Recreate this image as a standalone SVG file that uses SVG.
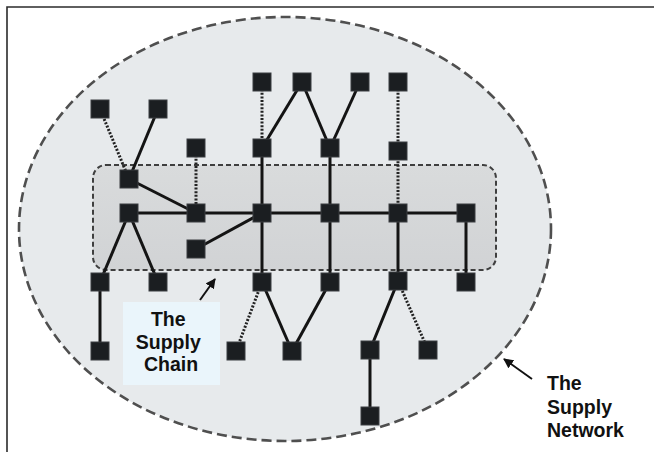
<svg xmlns="http://www.w3.org/2000/svg" width="654" height="452" viewBox="0 0 654 452">
  <defs>
    <style>
      .node { fill: #1b1e21; stroke: #3a3d40; stroke-width: 1; }
      .solid { stroke: #141414; stroke-width: 3; fill: none; }
      .dotted { stroke: #222; stroke-width: 3; stroke-dasharray: 2 1.6; fill: none; }
      .pointer { stroke: #111; stroke-width: 2; fill: none; marker-end: url(#head); }
      .label { font-family: "Liberation Sans", Arial, sans-serif; font-weight: bold; font-size: 19.5px; fill: #111; }
    </style>
    <marker id="head" viewBox="0 0 10 10" refX="9" refY="5" markerWidth="5" markerHeight="5" orient="auto">
      <path d="M0,0 L10,5 L0,10 Z" fill="#111"/>
    </marker>
    <linearGradient id="chainFill" x1="0" y1="0" x2="0" y2="1">
      <stop offset="0" stop-color="#d9dbdc"/>
      <stop offset="1" stop-color="#d1d3d5"/>
    </linearGradient>
  </defs>

  <rect x="0" y="0" width="654" height="452" fill="#ffffff"/>
  <!-- frame (top and left edges) -->
  <path d="M7,452 V7 H654" fill="none" stroke="#2b2b2b" stroke-width="1.6"/>

  <!-- supply network boundary -->
  <g id="network">
    <ellipse cx="285" cy="229" rx="266" ry="212" fill="#e7eaec" stroke="#4f4f4f" stroke-width="2.6" stroke-dasharray="10 5"/>
  </g>

  <!-- supply chain boundary -->
  <g id="chain">
    <rect x="93" y="165" width="403" height="105" rx="13" ry="13" fill="url(#chainFill)" stroke="#3f3f3f" stroke-width="2" stroke-dasharray="5 3"/>
  </g>

  <!-- connectors -->
  <g id="connectors">
    <line class="dotted" x1="100" y1="109" x2="129" y2="179"/>
    <line class="solid" x1="158" y1="109" x2="129" y2="179"/>
    <line class="solid" x1="129" y1="179" x2="196" y2="213"/>
    <line class="dotted" x1="196" y1="148" x2="196" y2="213"/>
    <line class="solid" x1="129" y1="213" x2="466" y2="213"/>
    <line class="dotted" x1="262" y1="82" x2="262" y2="148"/>
    <line class="solid" x1="302" y1="82" x2="262" y2="148"/>
    <line class="solid" x1="302" y1="82" x2="330" y2="148"/>
    <line class="solid" x1="360" y1="82" x2="330" y2="148"/>
    <line class="dotted" x1="398" y1="82" x2="398" y2="213"/>
    <line class="solid" x1="262" y1="148" x2="262" y2="282"/>
    <line class="solid" x1="330" y1="148" x2="330" y2="282"/>
    <line class="solid" x1="196" y1="249" x2="262" y2="213"/>
    <line class="solid" x1="129" y1="213" x2="100" y2="282"/>
    <line class="solid" x1="129" y1="213" x2="158" y2="282"/>
    <line class="solid" x1="100" y1="282" x2="100" y2="351"/>
    <line class="dotted" x1="262" y1="282" x2="236" y2="351"/>
    <line class="solid" x1="262" y1="282" x2="292" y2="351"/>
    <line class="solid" x1="330" y1="282" x2="292" y2="351"/>
    <line class="solid" x1="398" y1="213" x2="398" y2="281"/>
    <line class="solid" x1="398" y1="281" x2="370" y2="350"/>
    <line class="dotted" x1="398" y1="281" x2="428" y2="350"/>
    <line class="solid" x1="370" y1="350" x2="370" y2="416"/>
    <line class="solid" x1="466" y1="213" x2="466" y2="282"/>
  </g>

  <!-- nodes -->
  <g id="n1"><rect class="node" x="253" y="73" width="18" height="18"/></g>
  <g id="n2"><rect class="node" x="293" y="73" width="18" height="18"/></g>
  <g id="n3"><rect class="node" x="351" y="73" width="18" height="18"/></g>
  <g id="n4"><rect class="node" x="389" y="73" width="18" height="18"/></g>
  <g id="n5"><rect class="node" x="91" y="100" width="18" height="18"/></g>
  <g id="n6"><rect class="node" x="149" y="100" width="18" height="18"/></g>
  <g id="n7"><rect class="node" x="187" y="139" width="18" height="18"/></g>
  <g id="n8"><rect class="node" x="253" y="139" width="18" height="18"/></g>
  <g id="n9"><rect class="node" x="321" y="139" width="18" height="18"/></g>
  <g id="n10"><rect class="node" x="389" y="142" width="18" height="18"/></g>
  <g id="n11"><rect class="node" x="120" y="170" width="18" height="18"/></g>
  <g id="n12"><rect class="node" x="120" y="204" width="18" height="18"/></g>
  <g id="n13"><rect class="node" x="187" y="204" width="18" height="18"/></g>
  <g id="n14"><rect class="node" x="253" y="204" width="18" height="18"/></g>
  <g id="n15"><rect class="node" x="321" y="204" width="18" height="18"/></g>
  <g id="n16"><rect class="node" x="389" y="204" width="18" height="18"/></g>
  <g id="n17"><rect class="node" x="457" y="204" width="18" height="18"/></g>
  <g id="n18"><rect class="node" x="187" y="240" width="18" height="18"/></g>
  <g id="n19"><rect class="node" x="91" y="273" width="18" height="18"/></g>
  <g id="n20"><rect class="node" x="149" y="273" width="18" height="18"/></g>
  <g id="n21"><rect class="node" x="253" y="273" width="18" height="18"/></g>
  <g id="n22"><rect class="node" x="321" y="273" width="18" height="18"/></g>
  <g id="n23"><rect class="node" x="389" y="272" width="18" height="18"/></g>
  <g id="n24"><rect class="node" x="457" y="273" width="18" height="18"/></g>
  <g id="n25"><rect class="node" x="91" y="342" width="18" height="18"/></g>
  <g id="n26"><rect class="node" x="227" y="342" width="18" height="18"/></g>
  <g id="n27"><rect class="node" x="283" y="342" width="18" height="18"/></g>
  <g id="n28"><rect class="node" x="361" y="341" width="18" height="18"/></g>
  <g id="n29"><rect class="node" x="419" y="341" width="18" height="18"/></g>
  <g id="n30"><rect class="node" x="361" y="407" width="18" height="18"/></g>

  <!-- supply chain label -->
  <g id="chain-label">
    <rect x="123" y="302" width="97" height="83" fill="#eaf5fb"/>
    <text class="label" text-anchor="middle">
      <tspan x="171" y="326">The</tspan>
      <tspan x="171" y="349">Supply</tspan>
      <tspan x="171" y="371">Chain</tspan>
    </text>
    <line class="pointer" x1="200" y1="300" x2="215" y2="279"/>
  </g>

  <!-- supply network label -->
  <g id="network-label">
    <text class="label">
      <tspan x="547" y="390">The</tspan>
      <tspan x="547" y="414">Supply</tspan>
      <tspan x="547" y="437">Network</tspan>
    </text>
    <line class="pointer" x1="532" y1="379" x2="504" y2="359"/>
  </g>
</svg>
